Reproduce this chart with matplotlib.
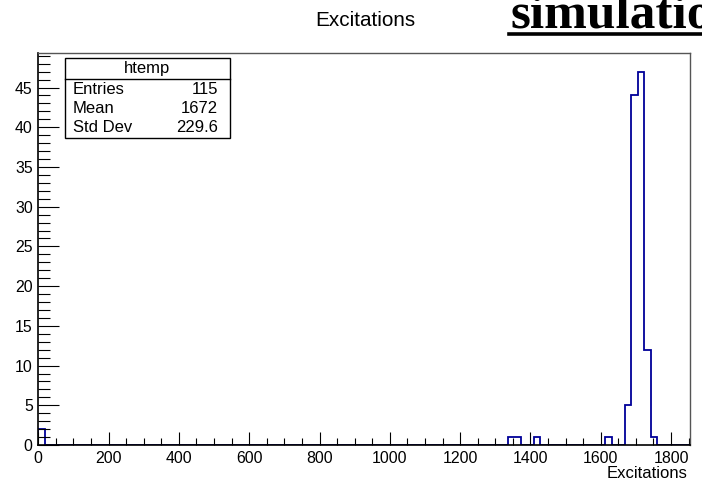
import numpy as np
import matplotlib.pyplot as plt
from matplotlib.patches import Rectangle
from matplotlib.lines import Line2D
from matplotlib.ticker import MultipleLocator

plt.rcParams['font.family'] = ['Liberation Sans', 'DejaVu Sans']

# histogram definition (ROOT htemp, 100 bins)
x_min = 0.0
x_max = 1854.0
n_bins = 100
# non empty bins: index -> entries
filled_bins = [0, 72, 73, 76, 87, 90, 91, 92, 93, 94]
filled_counts = [2, 1, 1, 1, 1, 5, 44, 47, 12, 1]

stat_names = ["Entries", "Mean", "Std Dev"]
stat_values = ["115", "1672", "229.6"]
x_ticks = [0, 200, 400, 600, 800, 1000, 1200, 1400, 1600, 1800]
y_ticks = [0, 5, 10, 15, 20, 25, 30, 35, 40, 45]

W, H = 702, 484


def px(x, y):
    # pixel position (from top left) -> figure fraction
    return x / W, 1 - y / H


fig = plt.figure(figsize=(W / 100, H / 100), dpi=100)
ax = fig.add_axes([38.3 / W, (H - 445) / H, (690 - 38.3) / W, (445 - 53) / H])

edges = np.linspace(x_min, x_max, n_bins + 1)
counts = np.zeros(n_bins)
counts[filled_bins] = filled_counts
ax.stairs(counts, edges, color='#000099', lw=1.3)

ax.set_xlim(x_min, x_max)
ax.set_ylim(0, 1.05 * max(filled_counts))
ax.set_xticks(x_ticks)
ax.set_yticks(y_ticks)
ax.xaxis.set_minor_locator(MultipleLocator(50))
ax.yaxis.set_minor_locator(MultipleLocator(1))

ax.tick_params(axis='both', which='both', direction='in', width=0.8,
               labelsize=11.4, colors='black')
ax.tick_params(axis='x', which='major', length=9.4, pad=4)
ax.tick_params(axis='x', which='minor', length=4.8)
ax.tick_params(axis='y', which='major', length=15, pad=4)
ax.tick_params(axis='y', which='minor', length=8.6)

for side in ['left', 'bottom']:
    ax.spines[side].set_linewidth(1.2)
    ax.spines[side].set_color('black')
for side in ['top', 'right']:
    ax.spines[side].set_linewidth(1.0)
    ax.spines[side].set_color('#555555')

# axis title, bottom right
fig.text(*px(688, 473), "Excitations", ha='right', va='center', size=12)

# histogram title
fig.text(*px(365, 20), "Excitations", ha='center', va='center', size=14.9)

# stats box
bx0, by0 = px(65, 138)
bx1, by1 = px(230, 58)
fig.add_artist(Rectangle((bx0, by0), bx1 - bx0, by1 - by0, transform=fig.transFigure,
                         fill=True, facecolor='white', edgecolor='black', lw=1.0))
sep_y = px(0, 79)[1]
fig.add_artist(Line2D([bx0, bx1], [sep_y, sep_y], transform=fig.transFigure,
                      color='black', lw=1.0))
fig.text(*px(147, 69), "htemp", ha='center', va='center', size=12)
for i, (name, val) in enumerate(zip(stat_names, stat_values)):
    y = 89 + i * 19.5
    fig.text(*px(73, y), name, ha='left', va='center', size=12)
    fig.text(*px(218, y), val, ha='right', va='center', size=12)

# slide text overlapping the top right corner (cut off by the page edge, as in the screenshot)
fig.text(*px(510, 28), "simulation", ha='left', va='baseline', size=37,
         family='Liberation Serif', weight='bold')
ux0, uy = px(509, 33.5)
fig.add_artist(Line2D([ux0, 1.0], [uy, uy], transform=fig.transFigure,
                      color='black', lw=2.6))

fig.savefig("out.png", dpi=100)
